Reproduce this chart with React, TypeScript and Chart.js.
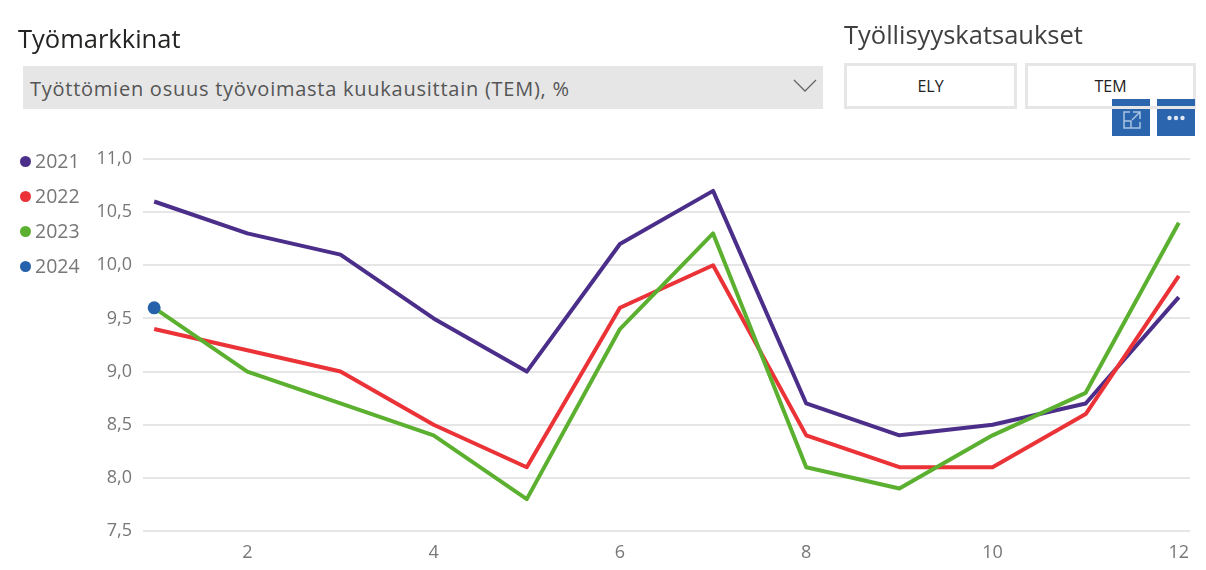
import React, { useEffect, useRef } from "react";
import { Chart, registerables } from "chart.js";

Chart.register(...registerables);

const months = [1, 2, 3, 4, 5, 6, 7, 8, 9, 10, 11, 12];
const values2021 = [10.6, 10.3, 10.1, 9.5, 9.0, 10.2, 10.7, 8.7, 8.4, 8.5, 8.7, 9.7];
const values2022 = [9.4, 9.2, 9.0, 8.5, 8.1, 9.6, 10.0, 8.4, 8.1, 8.1, 8.6, 9.9];
const values2023 = [9.6, 9.0, 8.7, 8.4, 7.8, 9.4, 10.3, 8.1, 7.9, 8.4, 8.8, 10.4];
const values2024 = [9.6];
const yearLabels = ["2021", "2022", "2023", "2024"];
const yearColors = ["#4b2e8a", "#ea3237", "#5bb02f", "#2562ab"];
const xTicks = [2, 4, 6, 8, 10, 12];
const FONT = '"Open Sans", "Noto Sans", sans-serif';

const pts = (vals: number[]) => vals.map((y, i) => ({ x: months[i], y }));

const abs = (left: number, top: number, width: number, height: number): React.CSSProperties => ({
  position: "absolute", left, top, width, height, boxSizing: "border-box",
});

export default function App() {
  const ref = useRef<HTMLCanvasElement>(null);
  useEffect(() => {
    const series = [values2021, values2022, values2023, values2024];
    const chart = new Chart(ref.current!, {
      type: "line",
      data: {
        datasets: series.map((vals, i) => ({
          label: yearLabels[i],
          data: pts(vals),
          borderColor: yearColors[i],
          backgroundColor: yearColors[i],
          borderWidth: 4,
          pointRadius: i === 3 ? 4.5 : 0,
          order: 4 - i,
          tension: 0,
          borderJoinStyle: "round" as const,
        })),
      },
      options: {
        animation: false,
        responsive: false,
        layout: { padding: { top: 159, right: 16, bottom: 0, left: 0 } },
        plugins: { legend: { display: false }, tooltip: { enabled: false } },
        scales: {
          x: {
            type: "linear",
            min: 0.88,
            max: 12.12,
            afterBuildTicks: (axis: any) => { axis.ticks = xTicks.map((value) => ({ value })); },
            afterFit: (axis: any) => { axis.height = 39; },
            grid: { display: false },
            border: { display: false },
            ticks: {
              color: "#777777",
              font: { family: FONT, size: 18 },
              padding: 3,
              maxRotation: 0,
              autoSkip: false,
              callback: (v: any) => String(v),
            },
          },
          y: {
            min: 7.5,
            max: 11,
            afterFit: (axis: any) => { axis.width = 143; },
            grid: { color: "#e6e6e6", lineWidth: 2, drawTicks: false },
            border: { display: false },
            ticks: {
              stepSize: 0.5,
              color: "#777777",
              font: { family: FONT, size: 18 },
              padding: 11,
              callback: (v: any) => Number(v).toFixed(1).replace(".", ","),
            },
          },
        },
      },
    } as any);
    return () => chart.destroy();
  }, []);

  const btn: React.CSSProperties = {
    border: "3px solid #e6e6e6", display: "flex", alignItems: "center", justifyContent: "center",
    fontSize: 16, color: "#222", background: "#fff",
  };
  return (
    <div style={{ position: "fixed", left: 0, top: 0, width: 1206, height: 570, background: "#fff", fontFamily: FONT, overflow: "hidden" }}>
      <canvas ref={ref} width={1206} height={570} style={{ position: "absolute", left: 0, top: 0 }} />
      <div style={{ ...abs(18, 20, 300, 36), fontSize: 25.5, lineHeight: "36px", color: "#252423" }}>Työmarkkinat</div>
      <div style={{ ...abs(844, 16, 340, 36), fontSize: 25.5, lineHeight: "36px", color: "#3f3f3f" }}>Työllisyyskatsaukset</div>
      <div style={{ ...abs(23, 66, 800, 43), background: "#e6e6e6" }} />
      <div style={{ ...abs(30, 73, 700, 32), fontSize: 20, letterSpacing: 0.75, lineHeight: "32px", color: "#555" }}>Työttömien osuus työvoimasta kuukausittain (TEM), %</div>
      <svg style={abs(792, 78, 26, 16)} viewBox="0 0 26 16">
        <path d="M2 2 L13 13 L24 2" fill="none" stroke="#666" strokeWidth="1.3" />
      </svg>
      <div style={{ ...abs(844, 63, 173, 46), ...btn }}>ELY</div>
      <div style={{ ...abs(1025, 63, 171, 46), ...btn }}>TEM</div>
      {yearLabels.map((y, i) => (
        <React.Fragment key={y}>
          <div style={{ ...abs(20, 156 + i * 35.1, 11, 11), borderRadius: "50%", background: yearColors[i] }} />
          <div style={{ ...abs(35, 147 + i * 35.1, 60, 28), fontSize: 19.5, lineHeight: "28px", color: "#777" }}>{y}</div>
        </React.Fragment>
      ))}
      <div style={{ ...abs(1112, 99, 38, 37), background: "#2a65ae" }} />
      <div style={{ ...abs(1157, 99, 38, 37), background: "#2a65ae" }} />
      <div style={{ ...abs(1112, 106, 83, 3), background: "#e6e6e6" }} />
      <svg style={abs(1121, 109, 22, 22)} viewBox="0 0 22 22" fill="none" stroke="#a9c3e2" strokeWidth="1.5">
        <path d="M9 3 H3 V19 H19 V13" />
        <path d="M3 12 H10 V19" />
        <path d="M12 3 H19 V10 M19 3 L11 11" />
      </svg>
      <svg style={abs(1165, 113, 22, 10)} viewBox="0 0 22 10" fill="#dfe8f3">
        <circle cx="4.5" cy="5" r="2.2" /><circle cx="11" cy="5" r="2.2" /><circle cx="17.5" cy="5" r="2.2" />
      </svg>
    </div>
  );
}
